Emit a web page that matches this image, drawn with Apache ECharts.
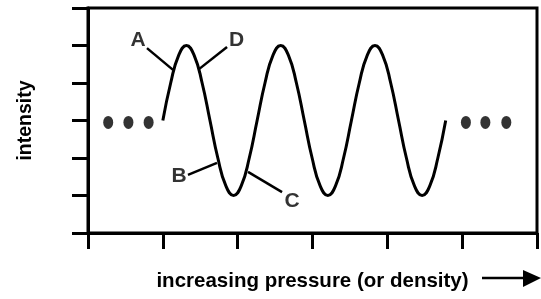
<!DOCTYPE html>
<html>
<head>
<meta charset="utf-8">
<script src="https://cdn.jsdelivr.net/npm/echarts@6/dist/echarts.min.js"></script>
<style>
  html, body { margin: 0; padding: 0; background: #fff; }
  #chart { width: 541px; height: 299px; }
</style>
</head>
<body>
<div id="chart"></div>
<script>
// wave: x in axis units (0..6), intensity in axis units (0..6)
var waveX = [1.000, 1.105, 1.210, 1.315, 1.420, 1.525, 1.630, 1.735, 1.840, 1.945, 2.050, 2.155,
             2.260, 2.365, 2.470, 2.575, 2.680, 2.785, 2.890, 2.995, 3.100, 3.205, 3.310, 3.415,
             3.520, 3.625, 3.730, 3.835, 3.940, 4.045, 4.150, 4.255, 4.360, 4.465, 4.570, 4.675, 4.780];
var waveY = [3, 4, 4.73, 5, 4.73, 4, 3, 2, 1.27, 1, 1.27, 2,
             3, 4, 4.73, 5, 4.73, 4, 3, 2, 1.27, 1, 1.27, 2,
             3, 4, 4.73, 5, 4.73, 4, 3, 2, 1.27, 1, 1.27, 2, 3];

// the "..." dots at both ends
var dotsX = [0.27, 0.54, 0.81, 5.05, 5.31, 5.59];
var dotsY = [2.95, 2.95, 2.95, 2.95, 2.95, 2.95];

// point labels and their leader lines
var labelNames = ['A', 'D', 'B', 'C'];
var labelX = [0.668, 1.984, 1.216, 2.726];
var labelY = [5.13, 5.13, 1.51, 0.85];
var leaderFrom = [[0.788, 4.93], [1.858, 4.96], [1.336, 1.55], [2.138, 1.63]];
var leaderTo = [[1.136, 4.35], [1.483, 4.37], [1.724, 1.87], [2.593, 1.09]];

var chart = echarts.init(document.getElementById('chart'));

var font = 'Liberation Sans, Arial, sans-serif';

var waveData = waveX.map(function (x, i) { return [x, waveY[i]]; });
var dotData = dotsX.map(function (x, i) { return [x, dotsY[i]]; });
var labelData = labelNames.map(function (n, i) { return { name: n, value: [labelX[i], labelY[i]] }; });

var series = [
    {
        type: 'line',
        data: waveData,
        smooth: 0.5,
        symbol: 'none',
        lineStyle: { color: '#000', width: 3 },
        z: 5
    },
    {
        type: 'scatter',
        data: dotData,
        symbol: 'circle',
        symbolSize: [10, 13],
        itemStyle: { color: '#000' }
    },
    {
        type: 'scatter',
        data: labelData,
        symbolSize: 1,
        itemStyle: { color: 'rgba(0,0,0,0)' },
        label: {
            show: true,
            position: 'inside',
            formatter: '{b}',
            color: '#000',
            fontSize: 21,
            fontWeight: 'bold',
            fontFamily: font
        }
    }
];

leaderFrom.forEach(function (p, i) {
    series.push({
        type: 'line',
        data: [p, leaderTo[i]],
        symbol: 'none',
        lineStyle: { color: '#000', width: 2.5 }
    });
});

var option = {
    animation: false,
    grid: {
        left: 88,
        right: 4,
        top: 8,
        bottom: 66,
        show: true,
        borderColor: '#000',
        borderWidth: 3
    },
    xAxis: {
        type: 'value',
        min: 0,
        max: 6,
        interval: 1,
        name: 'increasing pressure (or density)',
        nameLocation: 'middle',
        nameGap: 38,
        nameTextStyle: { color: '#000', fontSize: 20.5, fontWeight: 'bold', fontFamily: font },
        axisLine: { lineStyle: { color: '#000', width: 3 } },
        axisTick: { length: 16, lineStyle: { color: '#000', width: 3 } },
        axisLabel: { show: false },
        splitLine: { show: false }
    },
    yAxis: {
        type: 'value',
        min: 0,
        max: 6,
        interval: 1,
        name: 'intensity',
        nameLocation: 'middle',
        nameRotate: 90,
        nameGap: 52,
        nameTextStyle: { color: '#000', fontSize: 19.5, fontWeight: 'bold', fontFamily: font },
        axisLine: { lineStyle: { color: '#000', width: 3 } },
        axisTick: { length: 16, lineStyle: { color: '#000', width: 3 } },
        axisLabel: { show: false },
        splitLine: { show: false }
    },
    graphic: [
        {
            type: 'line',
            shape: { x1: 482, y1: 278, x2: 526, y2: 278 },
            style: { stroke: '#000', lineWidth: 2.5 }
        },
        {
            type: 'polygon',
            shape: { points: [[523, 270], [541, 278], [523, 287]] },
            style: { fill: '#000' }
        }
    ],
    series: series
};

chart.setOption(option);
</script>
</body>
</html>
